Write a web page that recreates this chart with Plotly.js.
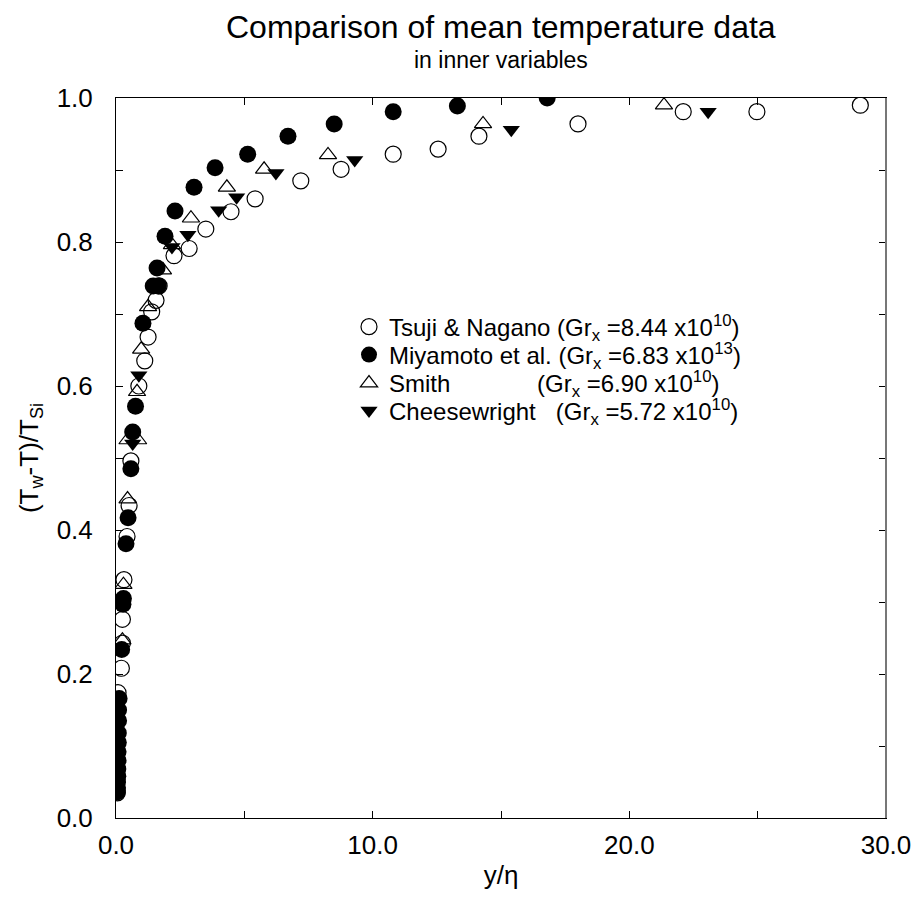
<!DOCTYPE html>
<html>
<head>
<meta charset="utf-8">
<script src="https://cdn.plot.ly/plotly-3.0.1.min.js"></script>
<style>html,body{margin:0;padding:0;background:#fff;}#chart{width:921px;height:901px;}</style>
</head>
<body>
<div id="chart"></div>
<script>
// Tsuji & Nagano (open circles)
const tsujiX = [0.05, 0.08, 0.21, 0.25, 0.25, 0.31, 0.43, 0.51, 0.58, 0.89, 1.12, 1.25, 1.39, 1.56, 1.68, 2.26, 2.85, 3.5, 4.48, 5.42, 7.2, 8.77, 10.8, 12.55, 14.14, 18.0, 22.1, 24.97, 29.0];
const tsujiY = [0.035, 0.174, 0.208, 0.243, 0.276, 0.331, 0.391, 0.434, 0.496, 0.600, 0.635, 0.668, 0.703, 0.719, 0.739, 0.781, 0.791, 0.818, 0.842, 0.860, 0.885, 0.901, 0.922, 0.929, 0.947, 0.964, 0.981, 0.981, 0.990];
// Miyamoto et al. (filled circles)
const miyX = [0.05, 0.06, 0.06, 0.07, 0.07, 0.08, 0.08, 0.09, 0.09, 0.1, 0.1, 0.12, 0.22, 0.27, 0.29, 0.39, 0.47, 0.58, 0.65, 0.76, 1.05, 1.45, 1.65, 1.6, 1.91, 2.3, 3.04, 3.86, 5.13, 6.7, 8.5, 10.8, 13.3, 16.8];
const miyY = [0.036, 0.042, 0.050, 0.058, 0.068, 0.080, 0.092, 0.105, 0.118, 0.135, 0.150, 0.166, 0.234, 0.297, 0.305, 0.381, 0.417, 0.485, 0.536, 0.572, 0.687, 0.739, 0.739, 0.764, 0.808, 0.843, 0.876, 0.903, 0.922, 0.947, 0.964, 0.981, 0.989, 1.0];
// Smith (open triangles)
const smithX = [0.25, 0.29, 0.45, 0.45, 0.86, 0.82, 0.98, 1.25, 1.83, 2.18, 2.92, 4.32, 5.77, 8.26, 14.3, 21.35];
const smithY = [0.247, 0.324, 0.443, 0.525, 0.525, 0.592, 0.651, 0.710, 0.761, 0.796, 0.833, 0.876, 0.901, 0.921, 0.964, 0.990];
// Cheesewright (filled down triangles)
const cheeseX = [0.65, 0.89, 2.18, 2.8, 4.0, 4.7, 6.23, 9.3, 15.4, 23.07];
const cheeseY = [0.52, 0.615, 0.793, 0.810, 0.844, 0.862, 0.896, 0.914, 0.956, 0.981];

const names = [
  "Tsuji &amp; Nagano (Gr<sub>x</sub> =8.44 x10<sup>10</sup>)",
  "Miyamoto et al. (Gr<sub>x</sub> =6.83 x10<sup>13</sup>)",
  "Smith" + "&nbsp;".repeat(13) + "(Gr<sub>x</sub> =6.90 x10<sup>10</sup>)",
  "Cheesewright" + "&nbsp;".repeat(3) + "(Gr<sub>x</sub> =5.72 x10<sup>10</sup>)"
];

const FONT = "Liberation Sans, Arial, sans-serif";

const traces = [
  {x: tsujiX, y: tsujiY, name: names[0], type: 'scatter', mode: 'markers', legend: 'legend',
   marker: {symbol: 'circle-open', size: 16, color: '#000', line: {width: 1.2, color: '#000'}}},
  {x: smithX, y: smithY, name: names[2], type: 'scatter', mode: 'markers', legend: 'legend3',
   marker: {symbol: 'triangle-up-open', size: 15, color: '#000', line: {width: 1.2, color: '#000'}}},
  {x: miyX, y: miyY, name: names[1], type: 'scatter', mode: 'markers', legend: 'legend2',
   marker: {symbol: 'circle', size: 17, color: '#000', line: {width: 0}}},
  {x: cheeseX, y: cheeseY, name: names[3], type: 'scatter', mode: 'markers', legend: 'legend4',
   marker: {symbol: 'triangle-down', size: 15, color: '#000', line: {width: 0}}}
];

function leg(yc) {
  return {x: 0.3026, y: yc, xanchor: 'left', yanchor: 'middle', bgcolor: 'rgba(0,0,0,0)',
          borderwidth: 0, font: {family: FONT, size: 24, color: '#000'}, itemwidth: 30};
}

const layout = {
  width: 921, height: 901,
  margin: {l: 116, r: 35, t: 98, b: 83, pad: 0},
  paper_bgcolor: '#fff', plot_bgcolor: '#fff',
  font: {family: FONT, color: '#000', size: 22},
  showlegend: true,
  legend: leg(0.6819),
  legend2: leg(0.6431),
  legend3: leg(0.6035),
  legend4: leg(0.5653),
  annotations: [
    {text: 'Comparison of mean temperature data', xref: 'paper', yref: 'paper', x: 0.5, y: 1, xanchor: 'center', yanchor: 'bottom', yshift: 51, showarrow: false, font: {family: FONT, size: 32, color: '#000'}},
    {text: 'in inner variables', xref: 'paper', yref: 'paper', x: 0.5, y: 1, xanchor: 'center', yanchor: 'bottom', yshift: 23, showarrow: false, font: {family: FONT, size: 23, color: '#000'}}
  ],
  xaxis: {
    range: [0, 30], dtick: 10, tick0: 0, tickformat: '.1f',
    ticks: 'inside', ticklen: 7, tickwidth: 1, tickcolor: '#000',
    minor: {dtick: 5, ticks: 'inside', ticklen: 7, tickwidth: 1, tickcolor: '#000'},
    showline: true, linecolor: '#000', linewidth: 1, mirror: 'ticks',
    showgrid: false, zeroline: false,
    tickfont: {family: FONT, size: 26}, ticklabelstandoff: 4,
    title: {text: 'y/η', font: {family: FONT, size: 26}, standoff: 6}
  },
  yaxis: {
    range: [0, 1], dtick: 0.2, tick0: 0, tickformat: '.1f',
    ticks: 'inside', ticklen: 7, tickwidth: 1, tickcolor: '#000',
    minor: {dtick: 0.1, ticks: 'inside', ticklen: 7, tickwidth: 1, tickcolor: '#000'},
    showline: true, linecolor: '#000', linewidth: 1, mirror: 'ticks',
    showgrid: false, zeroline: false,
    tickfont: {family: FONT, size: 26}, ticklabelstandoff: 17,
    title: {text: '(T<sub>w</sub>-T)/T<sub>Si</sub>', font: {family: FONT, size: 26}, standoff: 10}
  },
  shapes: [
    {type: 'line', xref: 'paper', yref: 'paper', x0: 1, x1: 1, y0: 0, y1: 1, line: {color: '#777', width: 2}}
  ]
};

Plotly.newPlot('chart', traces, layout, {staticPlot: true, displayModeBar: false});
</script>
</body>
</html>
